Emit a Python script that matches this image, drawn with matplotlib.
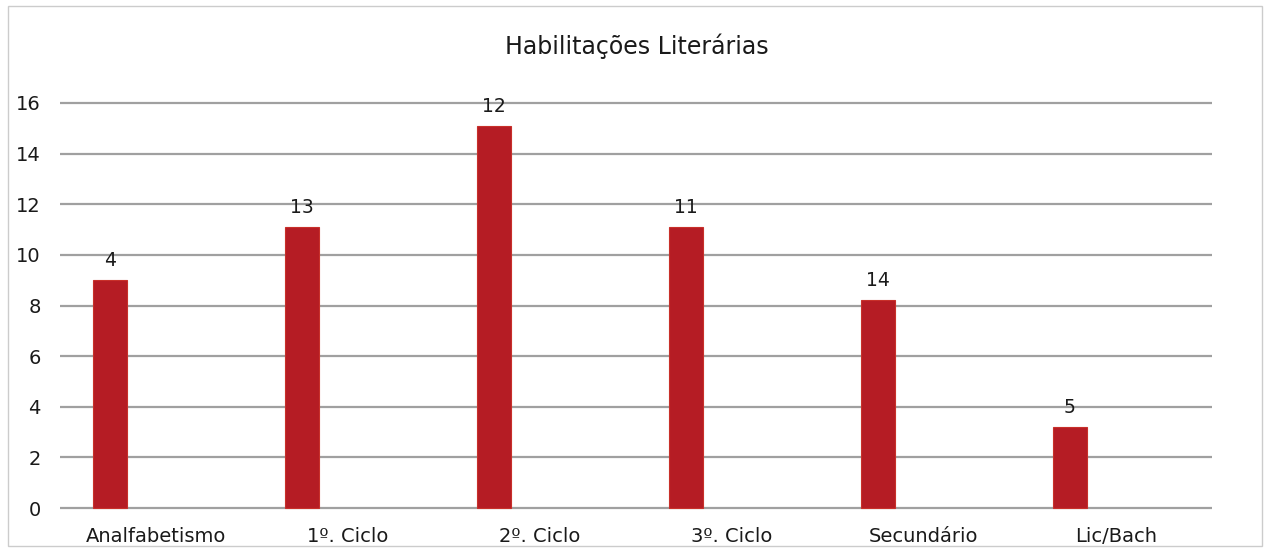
import numpy as np
import matplotlib
matplotlib.use("Agg")
import matplotlib.pyplot as plt

categories = ["Analfabetismo", "1º. Ciclo", "2º. Ciclo", "3º. Ciclo", "Secundário", "Lic/Bach"]
bar_heights = [9.0, 11.1, 15.1, 11.1, 8.2, 3.2]
bar_labels = ["4", "13", "12", "11", "14", "5"]
y_ticks = [0, 2, 4, 6, 8, 10, 12, 14, 16]

plt.rcParams['font.family'] = ['DejaVu Sans']

px_per_unit = 405 / 16
y_lo, y_hi = -0.1, 16.1
top_px = 508 - y_hi * px_per_unit
bot_px = 508 - y_lo * px_per_unit

fig = plt.figure(figsize=(12.65, 5.49), dpi=100, facecolor='w')
ax = fig.add_axes([60 / 1265, 1 - bot_px / 549, 1152 / 1265, (bot_px - top_px) / 549])

x = np.arange(len(categories))
offset = -0.24
bars = ax.bar(x + offset, bar_heights, width=0.18, color='#b51c24',
              edgecolor='#c8302a', linewidth=0.8, zorder=3)

for rect, lab in zip(bars, bar_labels):
    ax.text(rect.get_x() + rect.get_width() / 2, rect.get_height() + 0.4, lab,
            ha='center', va='bottom', fontsize=13.5, color='#1a1a1a', zorder=4)

ax.set_xlim(-0.5, len(categories) - 0.5)
ax.set_ylim(y_lo, y_hi)
ax.set_yticks(y_ticks)
ax.set_yticklabels([str(t) for t in y_ticks], fontsize=14, color='#1a1a1a')
ax.set_xticks(x)
ax.set_xticklabels(categories, fontsize=14, color='#1a1a1a')
ax.tick_params(axis='both', length=0)
ax.tick_params(axis='y', pad=14)
ax.tick_params(axis='x', pad=12)

ax.grid(axis='y', color='#a0a0a0', lw=1.6, zorder=0)
ax.set_axisbelow(True)
for spine in ('top', 'right', 'bottom', 'left'):
    ax.spines[spine].set_visible(False)

fig.text(637 / 1265, 1 - 46 / 549, "Habilitações Literárias", ha='center', va='center',
         fontsize=17, color='#1a1a1a')

# faint frame of the chart
border = plt.Rectangle((8 / 1265, 0.005), 1254 / 1265, 1 - 6 / 549 - 0.005,
                       transform=fig.transFigure, fill=False, ec='#cccccc', lw=1)
fig.patches.append(border)

fig.savefig("out.png", dpi=100, facecolor='w')
